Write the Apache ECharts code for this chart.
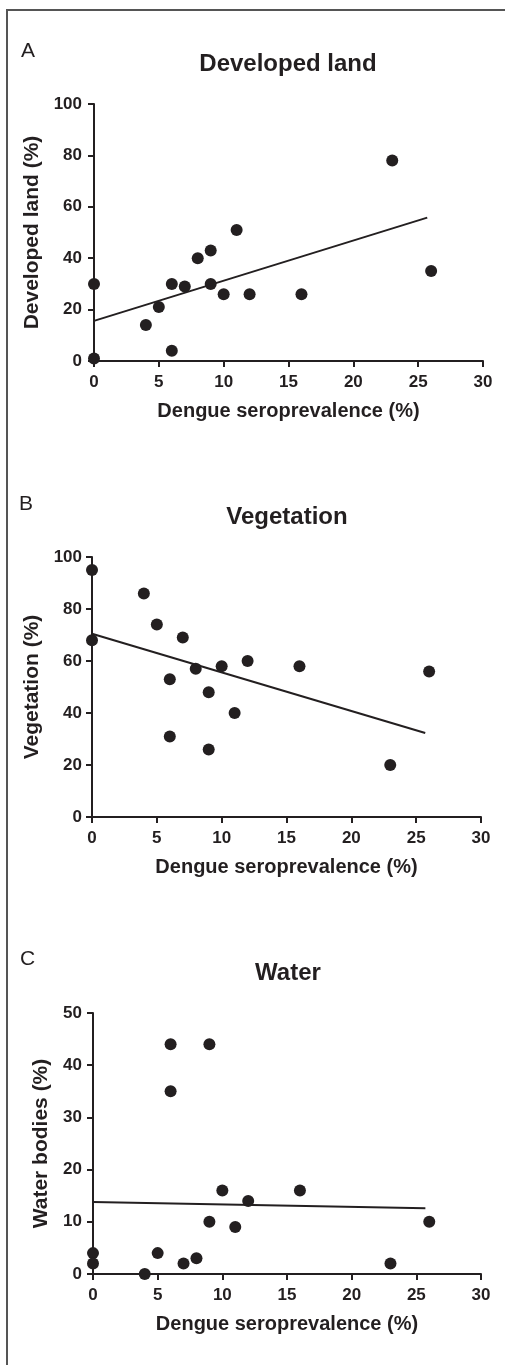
<!DOCTYPE html>
<html lang="en">
<head>
	<meta charset="UTF-8">
	<title>Dengue seroprevalence vs land cover</title>
	<script src="https://cdn.jsdelivr.net/npm/echarts@6/dist/echarts.min.js"></script>
	<style>
		html, body { margin: 0; padding: 0; background: #fff; }
	</style>
</head>
<body>
	<div id="chart" style="width:505px; height:1365px;"></div>
	<script>
	// dengue seroprevalence (%) per site, same x for all 3 panels
	var dengueA = [0, 0, 4, 5, 6, 6, 7, 8, 9, 9, 10, 11, 12, 16, 23, 26];
	var developed = [30, 1, 14, 21, 30, 4, 29, 40, 43, 30, 26, 51, 26, 26, 78, 35];

	var dengueB = [0, 0, 4, 5, 6, 6, 7, 8, 9, 9, 10, 11, 12, 16, 23, 26];
	var vegetation = [95, 68, 86, 74, 53, 31, 69, 57, 48, 26, 58, 40, 60, 58, 20, 56];

	var dengueC = [0, 0, 4, 5, 6, 6, 7, 8, 9, 9, 10, 11, 12, 16, 23, 26];
	var water = [4, 2, 0, 4, 44, 35, 2, 3, 44, 10, 16, 9, 14, 16, 2, 10];

	// regression line end points
	var fitDeveloped = [[0, 15.6], [25.7, 55.8]];
	var fitVegetation = [[0, 70.5], [25.7, 32.3]];
	var fitWater = [[0, 13.8], [25.7, 12.6]];

	var xTicks = [0, 5, 10, 15, 20, 25, 30];

	var ink = '#231f20';
	var font = 'Liberation Sans, Arial, Helvetica, sans-serif';

	function pairs(xs, ys) {
		var res = [];
		for (var i = 0; i < xs.length; i++) {
			res.push([xs[i], ys[i]]);
		}
		return res;
	}

	function xAxisOf(idx) {
		return {
			type: 'value',
			gridIndex: idx,
			min: xTicks[0],
			max: xTicks[xTicks.length - 1],
			interval: xTicks[1] - xTicks[0],
			name: 'Dengue seroprevalence (%)',
			nameLocation: 'middle',
			nameGap: 40,
			nameTextStyle: { fontFamily: font, fontWeight: 'bold', fontSize: 20, color: ink },
			axisLine: { lineStyle: { color: ink, width: 2 } },
			axisTick: { length: 6, lineStyle: { color: ink, width: 2 } },
			axisLabel: { margin: 13, fontFamily: font, fontWeight: 'bold', fontSize: 17, color: ink },
			splitLine: { show: false }
		};
	}

	function yAxisOf(idx, name, max, step, gap, margin) {
		return {
			type: 'value',
			gridIndex: idx,
			min: 0,
			max: max,
			interval: step,
			name: name,
			nameLocation: 'middle',
			nameGap: gap,
			nameTextStyle: { fontFamily: font, fontWeight: 'bold', fontSize: 21, color: ink },
			axisLine: { lineStyle: { color: ink, width: 2 } },
			axisTick: { length: 6, lineStyle: { color: ink, width: 2 } },
			axisLabel: { margin: margin, fontFamily: font, fontWeight: 'bold', fontSize: 17, color: ink },
			splitLine: { show: false }
		};
	}

	function dots(idx, data) {
		return {
			type: 'scatter',
			xAxisIndex: idx,
			yAxisIndex: idx,
			symbol: 'circle',
			symbolSize: 12,
			clip: false,
			itemStyle: { color: ink, opacity: 1 },
			data: data
		};
	}

	function fit(idx, data) {
		return {
			type: 'line',
			xAxisIndex: idx,
			yAxisIndex: idx,
			showSymbol: false,
			symbol: 'none',
			clip: false,
			lineStyle: { color: ink, width: 2 },
			data: data
		};
	}

	function heading(text, cx, top) {
		return {
			text: text, left: cx, top: top, textAlign: 'center', padding: 0,
			textStyle: { fontFamily: font, fontWeight: 'bold', fontSize: 24, color: ink }
		};
	}

	function letter(text, left, top) {
		return {
			text: text, left: left, top: top, padding: 0,
			textStyle: { fontFamily: font, fontWeight: 'normal', fontSize: 21, color: ink }
		};
	}

	var myChart = echarts.init(document.getElementById('chart'));
	var option = {
		animation: false,
		backgroundColor: '#fff',
		title: [
			letter('A', 21, 41),
			heading('Developed land', 288, 52),
			letter('B', 19, 494),
			heading('Vegetation', 287, 505),
			letter('C', 20, 949),
			heading('Water', 288, 961)
		],
		graphic: [{
			type: 'polyline',
			shape: { points: [[7, 1365], [7, 10], [505, 10]] },
			style: { stroke: '#555', lineWidth: 2, fill: null }
		}],
		grid: [
			{ left: 94, top: 104, width: 389, height: 257 },
			{ left: 92, top: 557, width: 389, height: 260 },
			{ left: 93, top: 1013, width: 388, height: 261 }
		],
		xAxis: [xAxisOf(0), xAxisOf(1), xAxisOf(2)],
		yAxis: [
			yAxisOf(0, 'Developed land (%)', 100, 20, 49, 12),
			yAxisOf(1, 'Vegetation (%)', 100, 20, 48, 10),
			yAxisOf(2, 'Water bodies (%)', 50, 10, 39, 11)
		],
		series: [
			fit(0, fitDeveloped),
			dots(0, pairs(dengueA, developed)),
			fit(1, fitVegetation),
			dots(1, pairs(dengueB, vegetation)),
			fit(2, fitWater),
			dots(2, pairs(dengueC, water))
		]
	};
	myChart.setOption(option);
	</script>
</body>
</html>
